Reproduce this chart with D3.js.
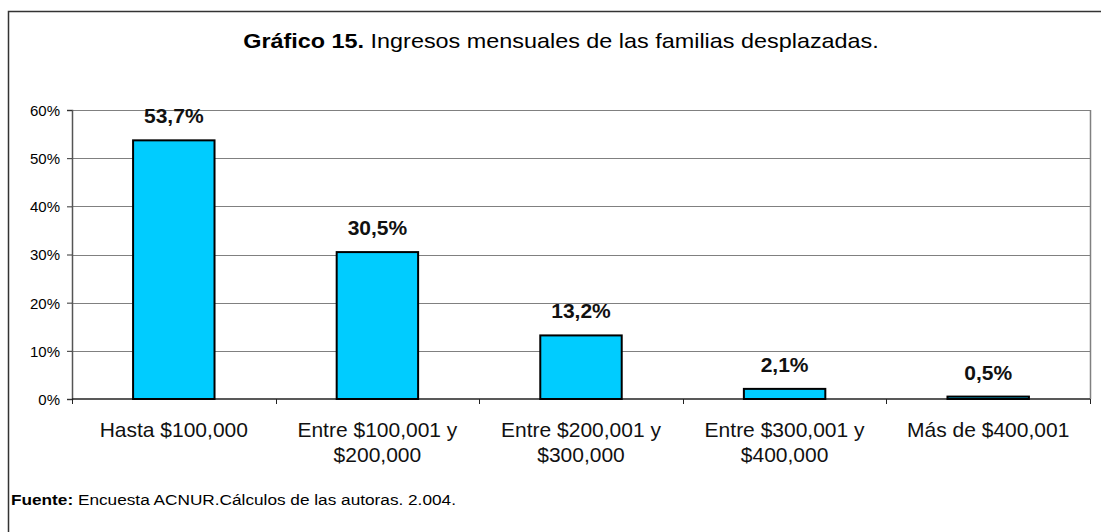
<!DOCTYPE html>
<html>
<head>
<meta charset="utf-8">
<script src="https://cdn.jsdelivr.net/npm/d3@7"></script>
<style>
  body { margin: 0; background: #fff; }
  svg { display: block; font-family: Arial, "Liberation Sans", sans-serif; }
</style>
</head>
<body>
<svg width="1101" height="532"></svg>
<script>
// data
let categories = [
  ['Hasta $100,000'],
  ['Entre $100,001 y', '$200,000'],
  ['Entre $200,001 y', '$300,000'],
  ['Entre $300,001 y', '$400,000'],
  ['Más de $400,001']
];
let values = [53.7, 30.5, 13.2, 2.1, 0.5];
let valueLabels = ['53,7%', '30,5%', '13,2%', '2,1%', '0,5%'];
let yTicks = [0, 10, 20, 30, 40, 50, 60];

let width = 1101;
let height = 532;
let margin = { top: 110, right: 11, bottom: 133, left: 72 };
let svg = d3.select('svg');

// outer frame, runs off the right and bottom edges
svg.append('rect')
  .attr('x', 8.5)
  .attr('y', 11.5)
  .attr('width', width)
  .attr('height', height)
  .attr('fill', 'none')
  .attr('stroke', '#333')
  .attr('stroke-width', 1.5);

// title (text in the original is stretched sideways a bit)
let title = svg.append('text')
  .attr('transform', 'translate(561,48) scale(1.17,1)')
  .attr('text-anchor', 'middle')
  .style('font-size', '20px')
  .attr('fill', '#000');
title.append('tspan').attr('font-weight', 'bold').text('Gráfico 15.');
title.append('tspan').text(' Ingresos mensuales de las familias desplazadas.');

let xScale = d3.scaleBand()
  .domain(d3.range(values.length))
  .range([margin.left, width - margin.right])
  .paddingInner(0.6)
  .paddingOuter(0.3);

let yScale = d3.scaleLinear()
  .domain([0, 60])
  .range([height - margin.bottom, margin.top]);

// gridlines
svg.append('g')
  .selectAll('line')
  .data(yTicks.slice(1))
  .enter()
  .append('line')
  .attr('x1', margin.left)
  .attr('x2', width - margin.right)
  .attr('y1', d => Math.round(yScale(d)) + 0.5)
  .attr('y2', d => Math.round(yScale(d)) + 0.5)
  .attr('stroke', '#808080')
  .attr('stroke-width', 1);

// right border of plot area
svg.append('line')
  .attr('x1', width - margin.right + 0.5)
  .attr('x2', width - margin.right + 0.5)
  .attr('y1', margin.top)
  .attr('y2', height - margin.bottom)
  .attr('stroke', '#808080')
  .attr('stroke-width', 1.5);

// y axis
let yAxis = d3.axisLeft(yScale)
  .tickValues(yTicks)
  .tickFormat(d => d + '%')
  .tickSize(5)
  .tickPadding(7);

let gy = svg.append('g')
  .attr('transform', `translate(${margin.left},0)`)
  .call(yAxis);
gy.select('.domain').attr('stroke', '#555').attr('stroke-width', 1.5);
gy.selectAll('.tick line').attr('stroke', '#333');
gy.selectAll('.tick text')
  .style('font-size', '15px')
  .attr('fill', '#000')
  .attr('dy', '0.36em');

// x axis line and tick marks at band boundaries
let x0 = margin.left;
let bandStep = xScale.step();
let gx = svg.append('g');
gx.append('line')
  .attr('x1', margin.left)
  .attr('x2', width - margin.right)
  .attr('y1', yScale(0))
  .attr('y2', yScale(0))
  .attr('stroke', '#222')
  .attr('stroke-width', 1.5);
gx.selectAll('.xtick')
  .data(d3.range(values.length + 1))
  .enter()
  .append('line')
  .attr('x1', i => Math.round(x0 + i * bandStep) + 0.5)
  .attr('x2', i => Math.round(x0 + i * bandStep) + 0.5)
  .attr('y1', yScale(0))
  .attr('y2', yScale(0) + 5)
  .attr('stroke', '#222');

// category labels
gx.selectAll('.cat')
  .data(categories)
  .enter()
  .append('text')
  .attr('text-anchor', 'middle')
  .attr('x', (d, i) => xScale(i) + xScale.bandwidth() / 2)
  .attr('y', 437)
  .style('font-size', '21px')
  .attr('fill', '#111')
  .each(function(d, i) {
    let t = d3.select(this);
    d.forEach((line, j) => {
      t.append('tspan')
        .attr('x', xScale(i) + xScale.bandwidth() / 2)
        .attr('dy', j === 0 ? 0 : 25)
        .text(line);
    });
  });

// bars
svg.append('g')
  .selectAll('rect')
  .data(values)
  .enter()
  .append('rect')
  .attr('x', (d, i) => xScale(i))
  .attr('y', d => yScale(d))
  .attr('width', xScale.bandwidth())
  .attr('height', d => yScale(0) - yScale(d))
  .attr('fill', '#00CCFF')
  .attr('stroke', '#000')
  .attr('stroke-width', 2);

// value labels
svg.append('g')
  .selectAll('text')
  .data(values)
  .enter()
  .append('text')
  .attr('text-anchor', 'middle')
  .attr('x', (d, i) => xScale(i) + xScale.bandwidth() / 2)
  .attr('y', d => yScale(d) - 17)
  .style('font-size', '21px')
  .attr('font-weight', 'bold')
  .attr('fill', '#111')
  .text((d, i) => valueLabels[i]);

// footer
let foot = svg.append('text')
  .attr('transform', 'translate(11,505) scale(1.23,1)')
  .style('font-size', '14px')
  .attr('fill', '#000');
foot.append('tspan').attr('font-weight', 'bold').text('Fuente:');
foot.append('tspan').text(' Encuesta ACNUR.Cálculos de las autoras. 2.004.');
</script>
</body>
</html>
